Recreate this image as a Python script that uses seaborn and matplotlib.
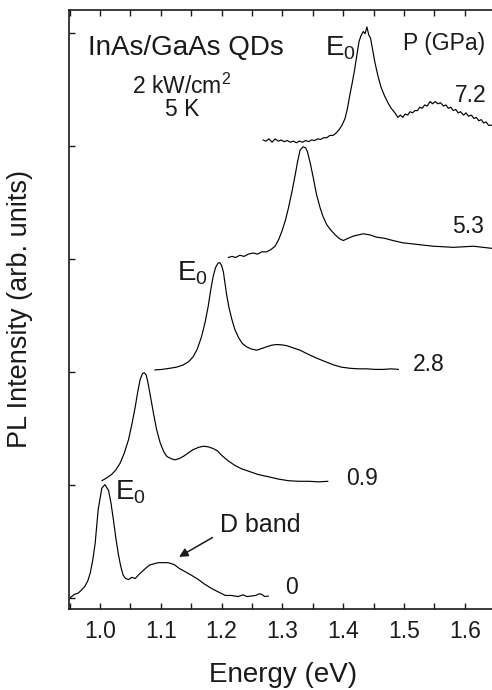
import matplotlib

matplotlib.use("Agg")
import matplotlib.pyplot as plt
import numpy as np
import pandas as pd
import seaborn as sns
from matplotlib.ticker import MultipleLocator

sns.set_theme(style="ticks")
plt.rcParams["font.family"] = ["Liberation Sans", "DejaVu Sans"]
plt.rcParams["mathtext.fontset"] = "custom"
plt.rcParams["mathtext.rm"] = "Liberation Sans"

# PL spectra, stacked with an offset of 1 per pressure
P0_E = [
    0.951, 0.958, 0.964, 0.970, 0.975, 0.980, 0.984, 0.988, 0.992, 0.997,
    1.003, 1.008, 1.014, 1.018, 1.022, 1.026, 1.030, 1.034, 1.038, 1.042,
    1.047, 1.052, 1.058, 1.063, 1.069, 1.075, 1.082, 1.089, 1.096, 1.104,
    1.112, 1.118, 1.123, 1.130, 1.140, 1.150, 1.162, 1.172, 1.184, 1.195,
    1.206, 1.216, 1.227, 1.235, 1.242, 1.249, 1.256, 1.262, 1.266, 1.271,
    1.277]
P0_I = [
    0.00, 0.03, 0.04, 0.07, 0.10, 0.15, 0.22, 0.33, 0.48, 0.78,
    0.97, 1.00, 0.95, 0.84, 0.69, 0.53, 0.39, 0.28, 0.20, 0.17,
    0.16, 0.18, 0.17, 0.20, 0.23, 0.26, 0.29, 0.30, 0.31, 0.31,
    0.31, 0.30, 0.29, 0.26, 0.23, 0.20, 0.16, 0.12, 0.08, 0.05,
    0.02, 0.02, 0.01, 0.025, 0.01, 0.015, 0.02, 0.035, 0.03, 0.01,
    0.015]

P09_E = [
    1.003, 1.011, 1.019, 1.026, 1.033, 1.040, 1.047, 1.053, 1.058, 1.062,
    1.066, 1.070, 1.073, 1.076, 1.079, 1.083, 1.088, 1.093, 1.099, 1.105,
    1.110, 1.117, 1.123, 1.130, 1.137, 1.145, 1.153, 1.162, 1.170, 1.178,
    1.186, 1.193, 1.200, 1.211, 1.222, 1.233, 1.244, 1.260, 1.277, 1.293,
    1.310, 1.327, 1.343, 1.360, 1.375]
P09_I = [
    1.035, 1.06, 1.09, 1.13, 1.19, 1.28, 1.40, 1.55, 1.69, 1.82,
    1.93, 1.985, 1.99, 1.97, 1.90, 1.78, 1.63, 1.49, 1.37, 1.29,
    1.25, 1.23, 1.22, 1.23, 1.25, 1.28, 1.31, 1.33, 1.34, 1.335,
    1.32, 1.30, 1.26, 1.21, 1.17, 1.14, 1.12, 1.09, 1.07, 1.05,
    1.035, 1.03, 1.03, 1.025, 1.03]

P28_E = [
    1.090, 1.102, 1.115, 1.126, 1.137, 1.146, 1.153, 1.160, 1.167, 1.173,
    1.178, 1.182, 1.186, 1.190, 1.194, 1.197, 1.200, 1.203, 1.208, 1.212,
    1.217, 1.222, 1.228, 1.234, 1.241, 1.249, 1.258, 1.266, 1.274, 1.283,
    1.291, 1.299, 1.307, 1.318, 1.329, 1.342, 1.356, 1.370, 1.384, 1.397,
    1.411, 1.425, 1.439, 1.452, 1.466, 1.479, 1.491]
P28_I = [
    2.015, 2.02, 2.03, 2.04, 2.06, 2.09, 2.13, 2.20, 2.31, 2.44,
    2.58, 2.72, 2.84, 2.92, 2.96, 2.965, 2.94, 2.88, 2.69, 2.57,
    2.46, 2.37, 2.30, 2.25, 2.22, 2.20, 2.19, 2.205, 2.22, 2.235,
    2.24, 2.237, 2.23, 2.21, 2.19, 2.155, 2.12, 2.09, 2.06, 2.04,
    2.03, 2.025, 2.025, 2.02, 2.02, 2.025, 2.02]

P53_E = [
    1.211, 1.217, 1.223, 1.230, 1.237, 1.244, 1.252, 1.259, 1.266, 1.274,
    1.281, 1.288, 1.294, 1.299, 1.305, 1.310, 1.316, 1.321, 1.325, 1.329,
    1.334, 1.338, 1.341, 1.346, 1.351, 1.356, 1.362, 1.367, 1.373, 1.380,
    1.387, 1.393, 1.400, 1.408, 1.417, 1.425, 1.433, 1.444, 1.455, 1.468,
    1.482, 1.498, 1.515, 1.531, 1.548, 1.565, 1.581, 1.598, 1.614, 1.630,
    1.646]
P53_I = [
    3.01, 3.02, 3.01, 3.03, 3.02, 3.04, 3.05, 3.04, 3.06, 3.06,
    3.08, 3.11, 3.17, 3.24, 3.34, 3.45, 3.60, 3.74, 3.86, 3.96,
    3.99, 3.98, 3.95, 3.84, 3.71, 3.57, 3.45, 3.37, 3.30, 3.25,
    3.21, 3.18, 3.16, 3.18, 3.20, 3.21, 3.22, 3.21, 3.19, 3.18,
    3.16, 3.14, 3.13, 3.12, 3.11, 3.105, 3.10, 3.105, 3.11, 3.10,
    3.09]

P72_E = [
    1.268, 1.273, 1.278, 1.283, 1.288, 1.293, 1.298, 1.303, 1.308, 1.313,
    1.318, 1.323, 1.328, 1.333, 1.338, 1.343, 1.348, 1.353, 1.358, 1.363,
    1.368, 1.373, 1.378, 1.383, 1.388, 1.393, 1.398, 1.403, 1.407, 1.411,
    1.415, 1.419, 1.423, 1.426, 1.429, 1.433, 1.436, 1.439, 1.442, 1.445,
    1.448, 1.452, 1.457, 1.462, 1.468, 1.474, 1.479, 1.485, 1.490, 1.494,
    1.498, 1.502, 1.506, 1.510, 1.514, 1.518, 1.522, 1.526, 1.530, 1.534,
    1.538, 1.543, 1.547, 1.551, 1.556, 1.560, 1.565, 1.569, 1.573, 1.577,
    1.581, 1.585, 1.589, 1.593, 1.598, 1.602, 1.606, 1.611, 1.615, 1.619,
    1.623, 1.627, 1.631, 1.635, 1.639, 1.646]
P72_I = [
    4.05, 4.04, 4.06, 4.03, 4.06, 4.04, 4.05, 4.035, 4.045, 4.03,
    4.04, 4.025, 4.04, 4.03, 4.045, 4.035, 4.05, 4.045, 4.06, 4.055,
    4.07, 4.07, 4.09, 4.09, 4.11, 4.14, 4.18, 4.24, 4.33, 4.45,
    4.56, 4.68, 4.82, 4.92, 4.97, 5.01, 4.99, 5.05, 4.98, 4.95,
    4.86, 4.74, 4.62, 4.52, 4.44, 4.375, 4.33, 4.29, 4.25, 4.27,
    4.25, 4.28, 4.27, 4.30, 4.29, 4.31, 4.31, 4.34, 4.33, 4.36,
    4.35, 4.39, 4.37, 4.39, 4.37, 4.38, 4.35, 4.36, 4.33, 4.34,
    4.31, 4.32, 4.29, 4.30, 4.27, 4.29, 4.26, 4.27, 4.24, 4.25,
    4.22, 4.23, 4.20, 4.21, 4.18, 4.18]

PRESSURES = ["0", "0.9", "2.8", "5.3", "7.2"]
SPECTRA = [(P0_E, P0_I), (P09_E, P09_I), (P28_E, P28_I),
           (P53_E, P53_I), (P72_E, P72_I)]
# where each pressure label sits (energy, offset intensity)
LABEL_POS = [(1.304, 0.03), (1.404, 1.0), (1.515, 2.01), (1.579, 3.23), (1.584, 4.39)]

X_TICKS = [1.0, 1.1, 1.2, 1.3, 1.4, 1.5, 1.6]
X_TICKLABELS = ["1.0", "1.1", "1.2", "1.3", "1.4", "1.5", "1.6"]
Y_TICKS = [0, 1, 2, 3, 4, 5]

INK = "#1a1a1a"

fig = plt.figure(figsize=(4.92, 6.9), dpi=100)
ax = fig.add_axes([69 / 492, 1 - 609 / 690, (498 - 69) / 492, (609 - 10) / 690])

for energy, inten in SPECTRA:
    df = pd.DataFrame({"E": energy, "I": inten})
    sns.lineplot(data=df, x="E", y="I", ax=ax, color="black", linewidth=0.85,
                 sort=False, estimator=None)

ax.set_xlim(0.949, 1.6546)
ax.set_ylim(-0.1, 5.2)
ax.set_xticks(X_TICKS)
ax.set_xticklabels(X_TICKLABELS)
ax.xaxis.set_minor_locator(MultipleLocator(0.05))
ax.set_yticks(Y_TICKS)
ax.tick_params(axis="x", which="both", direction="in", top=True, bottom=True,
               labeltop=False, length=4, width=1, colors=INK, labelsize=16.5, pad=8)
ax.tick_params(axis="y", which="both", direction="in", left=True, right=False,
               labelleft=False, length=4, width=1, colors=INK)
for sp in ax.spines.values():
    sp.set_linewidth(1.2)
    sp.set_color(INK)

ax.set_xlabel("Energy (eV)", fontsize=20, color=INK)
ax.set_ylabel("PL Intensity (arb. units)", fontsize=19.5, color=INK)
ax.xaxis.set_label_coords(0.5, -0.088)
ax.yaxis.set_label_coords(-0.085, 0.5)

for lab, (x, y) in zip(PRESSURES, LABEL_POS):
    ax.text(x, y, lab, fontsize=16.5, color=INK, ha="left", va="baseline")

ax.text(0.980, 4.80, "InAs/GaAs QDs", fontsize=20, color=INK, va="baseline")
ax.text(1.135, 4.46, "2 kW/cm$\\mathregular{^2}$", fontsize=16.5, color=INK,
        ha="center", va="baseline")
ax.text(1.135, 4.26, "5 K", fontsize=16.5, color=INK, ha="center", va="baseline")
ax.text(1.498, 4.85, "P (GPa)", fontsize=16.5, color=INK, va="baseline")

for x, y in [(1.370, 4.80), (1.126, 2.81), (1.025, 0.865)]:
    ax.text(x, y, "$\\mathregular{E_0}$", fontsize=20, color=INK, va="baseline")

ax.text(1.197, 0.584, "D band", fontsize=18, color=INK, va="baseline")
ax.annotate("", xy=(1.126, 0.349), xytext=(1.189, 0.545),
            arrowprops=dict(arrowstyle="-|>", color=INK, lw=1.1, mutation_scale=13))

fig.savefig("out.png", dpi=100)
